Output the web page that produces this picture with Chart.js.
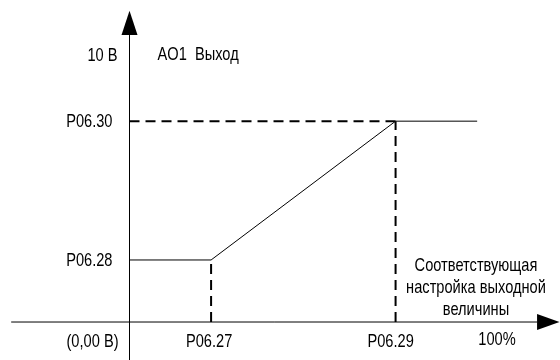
<!DOCTYPE html>
<html>
<head>
<meta charset="utf-8">
<script src="https://cdn.jsdelivr.net/npm/chart.js@4.4.1/dist/chart.umd.min.js"></script>
<style>
  html, body { margin: 0; padding: 0; background: #fff; }
  canvas { display: block; }
</style>
</head>
<body>
<canvas id="chart" width="560" height="360"></canvas>
<script>
(function () {
  // x in "% of output setting" units, y in volts-ish units (origin = 0,00 В)
  var curveX = [0, 22.2, 72.4, 94.6];
  var curveY = [2.32, 2.32, 7.51, 7.51];

  var bendX = [22.2, 72.4];        // P06.27, P06.29
  var levelY = [2.32, 7.51];       // P06.28, P06.30

  var xTickLabels = ['P06.27', 'P06.29', '100%'];
  var xTickValues = [22.2, 72.4, 100];
  var yTickLabels = ['P06.28', 'P06.30', '10 В'];
  var yTickValues = [2.32, 7.51, 10];
  var originLabel = '(0,00 В)';
  var titleLabel = 'AO1  Выход';
  var xAxisTitle = ['Соответствующая', 'настройка выходной', 'величины'];

  var X_MIN = -35.24, X_MAX = 117.14;
  var Y_MIN = -1.42, Y_MAX = 12.04;
  var X_AXIS_START = -32.2, X_ARROW_BASE = 110.9;
  var Y_ARROW_BASE = 10.73;

  var FONT = '19px "Liberation Sans", Arial, sans-serif';
  var SQUEEZE = 0.77;

  function line(data, opts) {
    return Object.assign({
      data: data,
      borderColor: '#000',
      borderWidth: 1,
      pointRadius: 0,
      tension: 0,
      fill: false
    }, opts || {});
  }

  var dash = { borderWidth: 2, borderDash: [10, 6] };

  var datasets = [
    // axes
    line([{ x: X_AXIS_START, y: 0 }, { x: X_ARROW_BASE, y: 0 }]),
    line([{ x: 0, y: Y_MIN }, { x: 0, y: Y_ARROW_BASE }]),
    // dashed guides
    line([{ x: 0, y: levelY[1] }, { x: bendX[1], y: levelY[1] }], dash),
    line([{ x: bendX[0], y: 0 }, { x: bendX[0], y: levelY[0] }], dash),
    line([{ x: bendX[1], y: 0 }, { x: bendX[1], y: levelY[1] }], dash),
    // output curve
    line(curveX.map(function (x, i) { return { x: x, y: curveY[i] }; }))
  ];

  function text(c, str, x, y, align) {
    c.save();
    c.translate(x, y);
    c.scale(SQUEEZE, 1);
    c.textAlign = align || 'center';
    c.textBaseline = 'middle';
    c.fillText(str, 0, 0);
    c.restore();
  }

  var decorPlugin = {
    id: 'decor',
    afterDatasetsDraw: function (chart) {
      var c = chart.ctx;
      var xs = chart.scales.x, ys = chart.scales.y;
      var ox = xs.getPixelForValue(0), oy = ys.getPixelForValue(0);
      c.save();
      c.fillStyle = '#000';

      // arrow heads
      var yb = ys.getPixelForValue(Y_ARROW_BASE);
      c.beginPath();
      c.moveTo(ox - 8, yb);
      c.lineTo(ox + 8, yb);
      c.lineTo(ox, ys.getPixelForValue(Y_MAX - 0.4));
      c.closePath();
      c.fill();

      var xb = xs.getPixelForValue(X_ARROW_BASE);
      c.beginPath();
      c.moveTo(xb, oy - 8);
      c.lineTo(xb, oy + 8);
      c.lineTo(xs.getPixelForValue(X_MAX) - 0.5, oy);
      c.closePath();
      c.fill();

      c.font = FONT;
      c.fillStyle = '#000';

      // y labels
      text(c, yTickLabels[0], ox - 17, ys.getPixelForValue(yTickValues[0]) + 1, 'right');
      text(c, yTickLabels[1], ox - 17, ys.getPixelForValue(yTickValues[1]) + 1, 'right');
      text(c, yTickLabels[2], ox - 12, ys.getPixelForValue(yTickValues[2]) + 1, 'right');
      text(c, titleLabel, ox + 28, ys.getPixelForValue(10), 'left');

      // x labels
      var ly = oy + 20;
      text(c, originLabel, ox - 11, ly, 'right');
      text(c, xTickLabels[0], xs.getPixelForValue(xTickValues[0]) - 2, ly);
      text(c, xTickLabels[1], xs.getPixelForValue(xTickValues[1]) - 5, ly);
      text(c, xTickLabels[2], xs.getPixelForValue(xTickValues[2]), ly - 2);

      xAxisTitle.forEach(function (t, i) {
        text(c, t, 476, oy - 56 + i * 22);
      });
      c.restore();
    }
  };

  new Chart(document.getElementById('chart'), {
    type: 'line',
    data: { datasets: datasets },
    options: {
      responsive: false,
      animation: false,
      layout: { padding: 0, autoPadding: false },
      plugins: { legend: { display: false }, tooltip: { enabled: false } },
      scales: {
        x: { type: 'linear', min: X_MIN, max: X_MAX, display: false },
        y: { type: 'linear', min: Y_MIN, max: Y_MAX, display: false }
      }
    },
    plugins: [decorPlugin]
  });
})();
</script>
</body>
</html>
